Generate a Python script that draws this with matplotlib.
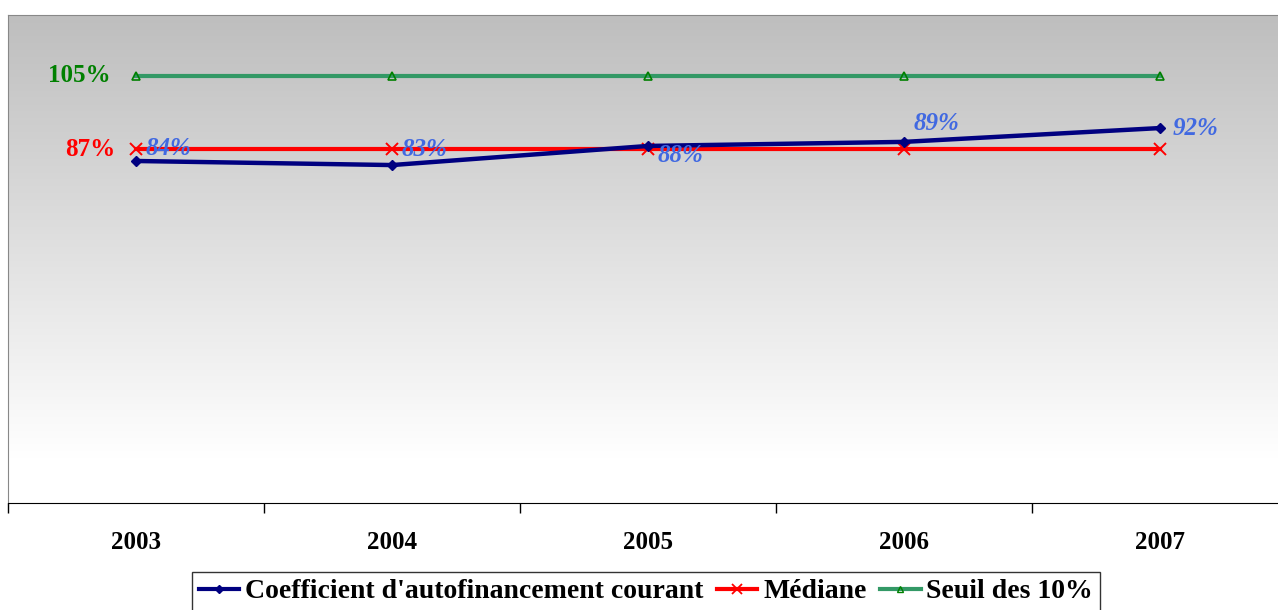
import numpy as np
import matplotlib.pyplot as plt
from matplotlib.lines import Line2D

years = ['2003', '2004', '2005', '2006', '2007']
coef = [84.1, 83.1, 87.8, 88.8, 92.2]
coef_labels = ['84%', '83%', '88%', '89%', '92%']
mediane = [87, 87, 87, 87, 87]
seuil = [105, 105, 105, 105, 105]

# label offsets in points (dx, dy) for the coefficient labels
offsets = [(7, 9), (7, 11), (7, -7), (7, 13), (9, 0)]

plt.rcParams['font.family'] = ['Liberation Serif', 'DejaVu Serif']

fig = plt.figure(figsize=(12.78, 6.10), dpi=100)
ax = fig.add_axes([8 / 1278, 1 - 503 / 610, 1280 / 1278, 488 / 610])

# grey to white background gradient
grad = np.linspace(0, 1, 256).reshape(-1, 1)
grad = np.clip(grad * 1.1, 0, 1)
top, bot = np.array([0.745, 0.745, 0.745]), np.array([1.0, 1.0, 1.0])
img = top + (bot - top) * grad[..., None]
ax.imshow(img, extent=[0, 1, 0, 1], transform=ax.transAxes,
          aspect='auto', zorder=0, origin='upper')

x = np.arange(len(years))
ax.plot(x, seuil, color='#339966', lw=3, marker='^', ms=6,
        mfc='none', mec='#008000', mew=1.2, zorder=3)
ax.plot(x, mediane, color='#ff0000', lw=3, marker='x', ms=9,
        mec='#ff0000', mew=1.4, zorder=3)
ax.plot(x, coef, color='#000080', lw=3.2, marker='D', ms=5,
        mfc='#000080', mec='#000080', zorder=4)

for xi, yi, lab, (dx, dy) in zip(x, coef, coef_labels, offsets):
    ax.annotate(lab, (xi, yi), xytext=(dx, dy), textcoords='offset points',
                ha='left', va='center', color='#4169e1', fontsize=18,
                fontweight='bold', fontstyle='italic', zorder=5)

ax.annotate('105%', (x[0], seuil[0]), xytext=(-18, 0), textcoords='offset points',
            ha='right', va='center', color='#008000', fontsize=18, fontweight='bold')
ax.annotate('87%', (x[0], mediane[0]), xytext=(-15, 0), textcoords='offset points',
            ha='right', va='center', color='#ff0000', fontsize=18, fontweight='bold')

ax.set_xlim(-0.5, len(years) - 0.5)
ax.set_ylim(0, 120)
ax.set_yticks([])
ax.set_xticks(x)
ax.set_xticklabels(years, fontsize=18, fontweight='bold')
ax.set_xticks(np.arange(-0.5, len(years)), minor=True)
ax.tick_params(axis='x', which='major', length=0, pad=20)
ax.tick_params(axis='x', which='minor', length=7, width=1, color='black', direction='out')

for s in ['left', 'top', 'right']:
    ax.spines[s].set_color('#888888')
ax.spines['bottom'].set_color('black')

handles = [
    Line2D([], [], color='#000080', lw=3, marker='D', ms=4),
    Line2D([], [], color='#ff0000', lw=3, marker='x', ms=7, mew=1.3),
    Line2D([], [], color='#339966', lw=3, marker='^', ms=5, mfc='none', mec='#008000'),
]
labels = ["Coefficient d'autofinancement courant", 'Médiane', 'Seuil des 10%']
leg = fig.legend(handles, labels, loc='upper center', ncol=3,
                 bbox_to_anchor=(646 / 1278, 1 - 572 / 610),
                 prop={'size': 20, 'weight': 'bold'}, frameon=True, fancybox=False,
                 edgecolor='black', handlelength=1.45, handletextpad=0.2,
                 columnspacing=0.5, borderpad=0.25, borderaxespad=0)
leg.get_frame().set_linewidth(1)

fig.savefig('out.png', dpi=100)
